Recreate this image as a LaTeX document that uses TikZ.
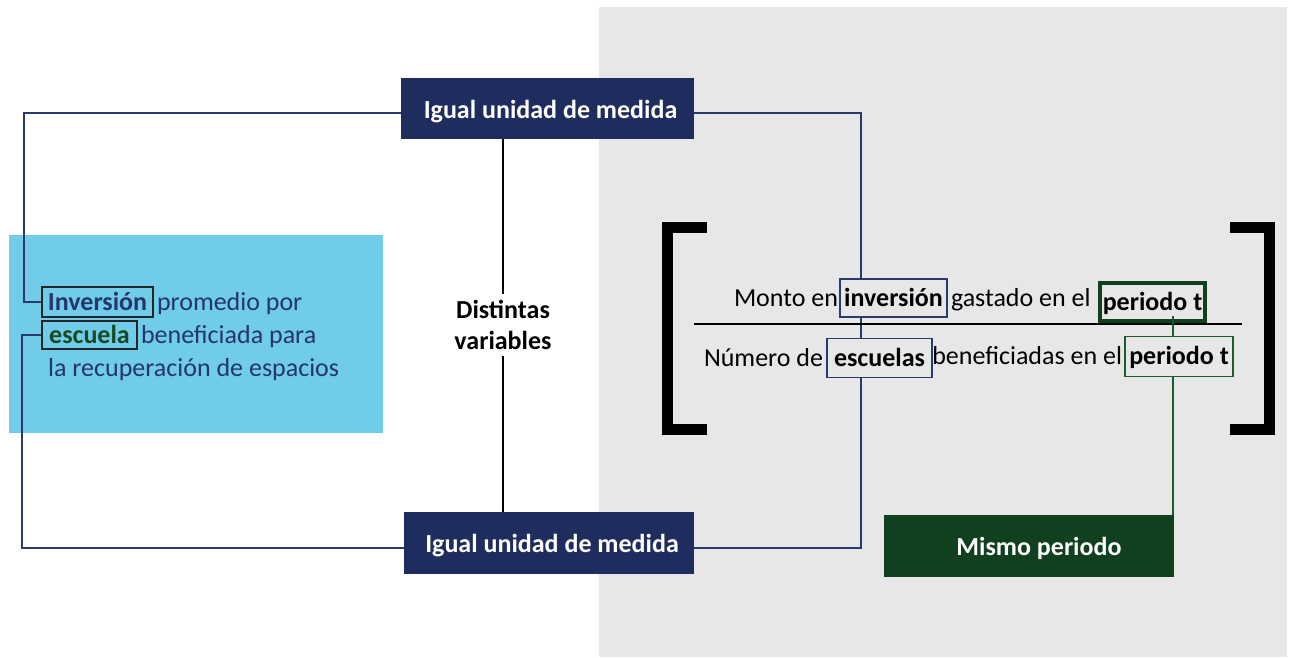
\documentclass[tikz,border=0pt]{standalone}
\usepackage{fontspec}
\setmainfont{Carlito}
\definecolor{navy}{HTML}{1F2D5E}
\definecolor{lnavy}{HTML}{2B3A6E}
\definecolor{dgreen}{HTML}{11401E}
\definecolor{lgreen}{HTML}{1E5A2E}
\definecolor{bg}{HTML}{E7E7E7}
\definecolor{sky}{HTML}{70CCE8}
\definecolor{tnavy}{HTML}{233768}
\definecolor{tgreen}{HTML}{184A24}
\begin{document}
\begin{tikzpicture}[x=1pt,y=-1pt,
  lbl/.style={font=\fontsize{26}{31}\selectfont, inner sep=0pt, text height=18pt, text depth=2pt},
  bigbox/.style={lbl, font=\fontsize{26}{31}\selectfont\bfseries, text=white, text height=19.5pt, text depth=0.5pt},
  navybox/.style={bigbox, fill=navy},
  greenbox/.style={bigbox, fill=dgreen},
  conn/.style={draw=lnavy, line width=1.6pt},
  gconn/.style={draw=lgreen, line width=1.6pt},
  blk/.style={draw=black, line width=1.8pt},
  hbox/.style={lbl, draw, line width=1.6pt, font=\fontsize{26}{31}\selectfont\bfseries},
  brk/.style={draw=black, line width=11pt}
]
\useasboundingbox (0,0) rectangle (1292,658);
\fill[bg] (599,7) rectangle (1287,657);
\fill[sky] (9,235) rectangle (383,433);

% main boxes
\node[navybox, minimum width=293pt, minimum height=61pt] (top) at (547.5,108.5) {\hspace*{6pt}Igual unidad de medida};
\node[navybox, minimum width=290pt, minimum height=62pt] (bot) at (549,543) {\hspace*{6pt}Igual unidad de medida};
\node[greenbox, minimum width=290pt, minimum height=62pt] (mis) at (1029,546) {\hspace*{20pt}Mismo periodo};

% distintas variables
\node[font=\fontsize{26}{31}\selectfont\bfseries, align=center, inner xsep=0pt, inner ysep=6pt] (dv) at (503,325) {Distintas\\variables};
\draw[blk] (top.south -| dv) -- (dv);
\draw[blk] (bot.north -| dv) -- (dv);

% left text
\node[hbox, draw=black!85, text=tnavy, minimum width=111pt, minimum height=30pt] (inv) at (97.5,302) {Inversión};
\node[lbl, text=tnavy, anchor=west] (t1) at ([xshift=3pt]inv.east) {promedio por};
\node[hbox, draw=black!85, text=tgreen, minimum width=95pt, minimum height=28pt] (esc) at (89.5,335) {escuela};
\node[lbl, text=tnavy, anchor=west] (t2) at ([xshift=3pt]esc.east) {beneficiada para};
\node[lbl, text=tnavy, anchor=west] (t3) at (48,368) {la recuperación de espacios};

% left connectors
\coordinate (lc1) at (24,0);
\coordinate (lc2) at (22,0);
\draw[conn] ([yshift=-4.5pt]top.west) -| (lc1 |- inv.west) -- (inv.west);
\draw[conn] (esc.west) -| (lc2 |- 0,548) -- ([yshift=-5pt]bot.west);

% right navy connector (behind fraction boxes)
\coordinate (rc) at (861,548);
\draw[conn] ([yshift=-4.5pt]top.east) -| (rc) -- ([yshift=-5pt]bot.east);

% fraction
\node[hbox, draw=lnavy, fill=bg, minimum width=107pt, minimum height=38pt] (inv2) at (893.5,298) {inversión};
\node[lbl, anchor=east] (m1) at ([xshift=-1pt]inv2.west) {Monto en};
\node[lbl, anchor=west] (m2) at ([xshift=3pt]inv2.east) {gastado en el};
\node[hbox, draw=dgreen, line width=4pt, minimum width=105pt, minimum height=38pt] (per1) at (1152.5,302) {periodo t};
\coordinate (fl) at (694,324);
\coordinate (fr) at (1242,324);
\draw[line width=2pt] (fl) -- (fr);
\coordinate (gs) at (1173,316);
\draw[gconn] (gs) -- (gs |- mis.north);
\node[hbox, draw=lnavy, fill=bg, minimum width=105pt, minimum height=39pt] (esc2) at (879.5,358) {escuelas};
\node[lbl, anchor=east] (n1) at ([xshift=-3pt]esc2.west) {Número de};
\node[hbox, draw=lgreen, fill=bg, minimum width=108pt, minimum height=40pt] (per2) at (1179,356.5) {periodo t};
\node[lbl, anchor=east] (n2) at ([xshift=-2pt]per2.west) {beneficiadas en el};

% brackets
\draw[brk] (707,227.5) -- (667.5,227.5) -- (667.5,429.5) -- (707,429.5);
\draw[brk] (1230,227.5) -- (1269.5,227.5) -- (1269.5,429.5) -- (1230,429.5);
\end{tikzpicture}
\end{document}
